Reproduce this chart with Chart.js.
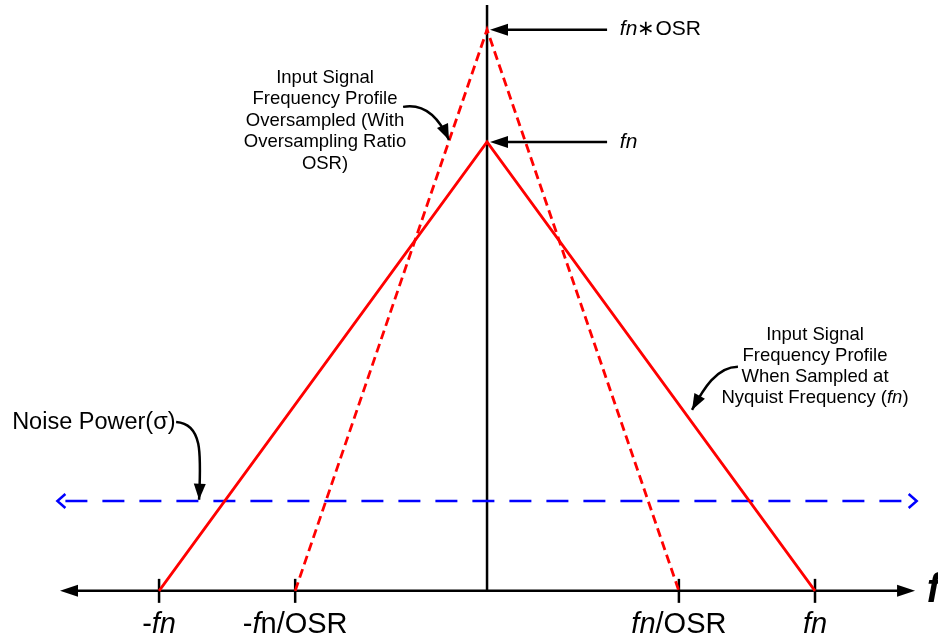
<!DOCTYPE html>
<html lang="en">
<head>
    <meta charset="UTF-8">
    <title>Oversampling Frequency Profile</title>
    <script src="https://cdn.jsdelivr.net/npm/chart.js"></script>
    <style>
        body, html {
            margin: 0;
            padding: 0;
            background: #fff;
            overflow: hidden;
        }
        #wrap {
            width: 938px;
            height: 638px;
        }
    </style>
</head>
<body>
    <div id="wrap"><canvas id="profileChart"></canvas></div>

    <script>
        // frequency in units of fn, amplitude in units of the Nyquist peak
        const X_TICKS = [-1, -0.585, 0.585, 1];
        const X_TICK_LABELS = ['-*fn*', '-*f*n/OSR', '*fn*/OSR', '*fn*'];

        const NYQUIST_X = [-1, 0, 1];
        const NYQUIST_Y = [0, 1, 0];

        const OVERSAMPLED_X = [-0.585, 0, 0.585];
        const OVERSAMPLED_Y = [0, 1.25, 0];

        const NOISE_X = [-1.31, 1.31];
        const NOISE_Y = [0.2, 0.2];

        const PEAK_VALUES = [1.25, 1];
        const PEAK_LABELS = ['*fn*\u2217OSR', '*fn*'];

        const FONT = '"Liberation Sans", Arial, sans-serif';

        const toPoints = (xs, ys) => xs.map((x, i) => ({ x: x, y: ys[i] }));

        // text with *italic* parts
        function drawRich(ctx, str, x, y, size, align) {
            const parts = str.split('*').map((t, i) => ({ t: t, it: i % 2 === 1 })).filter(p => p.t);
            const fontOf = p => (p.it ? 'italic ' : '') + size + 'px ' + FONT;
            let total = 0;
            parts.forEach(p => { ctx.font = fontOf(p); total += ctx.measureText(p.t).width; });
            let cx = align === 'center' ? x - total / 2 : x;
            ctx.textAlign = 'left';
            ctx.textBaseline = 'middle';
            parts.forEach(p => {
                ctx.font = fontOf(p);
                ctx.fillText(p.t, cx, y);
                cx += ctx.measureText(p.t).width;
            });
        }

        function arrowHead(ctx, x, y, ang, len, half, filled) {
            ctx.save();
            ctx.translate(x, y);
            ctx.rotate(ang);
            ctx.beginPath();
            ctx.moveTo(-len, -half);
            ctx.lineTo(0, 0);
            ctx.lineTo(-len, half);
            if (filled) {
                ctx.closePath();
                ctx.fill();
            } else {
                ctx.stroke();
            }
            ctx.restore();
        }

        const diagramPlugin = {
            id: 'diagram',
            beforeDatasetsDraw(chart) {
                const ctx = chart.ctx;
                const xs = chart.scales.x, ys = chart.scales.y;
                const px = v => xs.getPixelForValue(v);
                const py = v => ys.getPixelForValue(v);
                const y0 = py(0);

                ctx.save();
                ctx.strokeStyle = '#000';
                ctx.fillStyle = '#000';
                ctx.lineWidth = 2.5;

                // frequency axis with arrows both ends
                const xa = -1.302, xb = 1.305;
                ctx.beginPath();
                ctx.moveTo(px(xa) + 10, y0);
                ctx.lineTo(px(xb) - 10, y0);
                ctx.stroke();
                arrowHead(ctx, px(xa), y0, Math.PI, 18, 6, true);
                arrowHead(ctx, px(xb), y0, 0, 18, 6, true);

                // vertical axis
                ctx.beginPath();
                ctx.moveTo(px(0), py(1.305));
                ctx.lineTo(px(0), y0);
                ctx.stroke();

                // ticks and labels
                X_TICKS.forEach((t, i) => {
                    ctx.lineWidth = 2.5;
                    ctx.beginPath();
                    ctx.moveTo(px(t), y0 - 12);
                    ctx.lineTo(px(t), y0 + 12);
                    ctx.stroke();
                    drawRich(ctx, X_TICK_LABELS[i], px(t), y0 + 34, 29, 'center');
                });

                ctx.font = 'bold italic 40px ' + FONT;
                ctx.textAlign = 'left';
                ctx.textBaseline = 'middle';
                ctx.fillText('f', px(1.341), y0);
                ctx.restore();
            },
            afterDatasetsDraw(chart) {
                const ctx = chart.ctx;
                const xs = chart.scales.x, ys = chart.scales.y;
                const px = v => xs.getPixelForValue(v);
                const py = v => ys.getPixelForValue(v);

                ctx.save();
                ctx.strokeStyle = '#000';
                ctx.fillStyle = '#000';

                // noise line open arrow tips
                ctx.strokeStyle = '#0000ff';
                ctx.lineWidth = 2.5;
                arrowHead(ctx, px(NOISE_X[0]), py(NOISE_Y[0]), Math.PI, 8, 7, false);
                arrowHead(ctx, px(NOISE_X[1]), py(NOISE_Y[1]), 0, 8, 7, false);

                // peak markers
                ctx.strokeStyle = '#000';
                PEAK_VALUES.forEach((v, i) => {
                    const y = py(v);
                    ctx.lineWidth = 2.5;
                    ctx.beginPath();
                    ctx.moveTo(px(0.366), y);
                    ctx.lineTo(px(0.009) + 14, y);
                    ctx.stroke();
                    arrowHead(ctx, px(0.009), y, Math.PI, 18, 6, true);
                    drawRich(ctx, PEAK_LABELS[i], px(0.405), y, 21, 'left');
                });

                // annotation text blocks
                const leftLines = ['Input Signal', 'Frequency Profile', 'Oversampled (With', 'Oversampling Ratio', 'OSR)'];
                leftLines.forEach((l, i) => drawRich(ctx, l, px(-0.494), py(1.143) + i * 21.5, 18.5, 'center'));

                const rightLines = ['Input Signal', 'Frequency Profile', 'When Sampled at', 'Nyquist Frequency (*fn*)'];
                rightLines.forEach((l, i) => drawRich(ctx, l, px(1.0), py(0.570) + i * 21, 18.5, 'center'));

                drawRich(ctx, 'Noise Power(\u03c3)', px(-1.448), py(0.376), 23.5, 'left');

                // curved pointers
                ctx.lineWidth = 2.5;
                function curve(a, c1, c2, b) {
                    ctx.beginPath();
                    ctx.moveTo(px(a[0]), py(a[1]));
                    ctx.bezierCurveTo(px(c1[0]), py(c1[1]), px(c2[0]), py(c2[1]), px(b[0]), py(b[1]));
                    ctx.stroke();
                    const ang = Math.atan2(py(b[1]) - py(c2[1]), px(b[0]) - px(c2[0]));
                    arrowHead(ctx, px(b[0]), py(b[1]), ang, 16, 6, true);
                }
                curve([-0.256, 1.078], [-0.195, 1.086], [-0.150, 1.06], [-0.116, 1.004]);
                curve([0.765, 0.499], [0.700, 0.499], [0.660, 0.45], [0.625, 0.403]);
                curve([-0.948, 0.376], [-0.866, 0.372], [-0.872, 0.303], [-0.878, 0.203]);

                ctx.restore();
            }
        };

        new Chart(document.getElementById('profileChart'), {
            type: 'scatter',
            data: {
                datasets: [{
                    label: 'Nyquist',
                    data: toPoints(NYQUIST_X, NYQUIST_Y),
                    showLine: true,
                    borderColor: '#ff0000',
                    borderWidth: 2.8,
                    pointRadius: 0,
                    tension: 0
                }, {
                    label: 'Oversampled',
                    data: toPoints(OVERSAMPLED_X, OVERSAMPLED_Y),
                    showLine: true,
                    borderColor: '#ff0000',
                    borderWidth: 2.8,
                    borderDash: [9, 5],
                    pointRadius: 0,
                    tension: 0
                }, {
                    label: 'Noise',
                    data: toPoints(NOISE_X, NOISE_Y),
                    showLine: true,
                    borderColor: '#0000ff',
                    borderWidth: 2.5,
                    borderDash: [22, 15],
                    borderDashOffset: -8,
                    pointRadius: 0
                }]
            },
            options: {
                responsive: true,
                maintainAspectRatio: false,
                animation: false,
                layout: { padding: 0 },
                scales: {
                    x: { type: 'linear', min: -1.485, max: 1.375, display: false },
                    y: { type: 'linear', min: -0.105, max: 1.316, display: false }
                },
                plugins: {
                    legend: { display: false },
                    tooltip: { enabled: false }
                }
            },
            plugins: [diagramPlugin]
        });
    </script>
</body>
</html>
